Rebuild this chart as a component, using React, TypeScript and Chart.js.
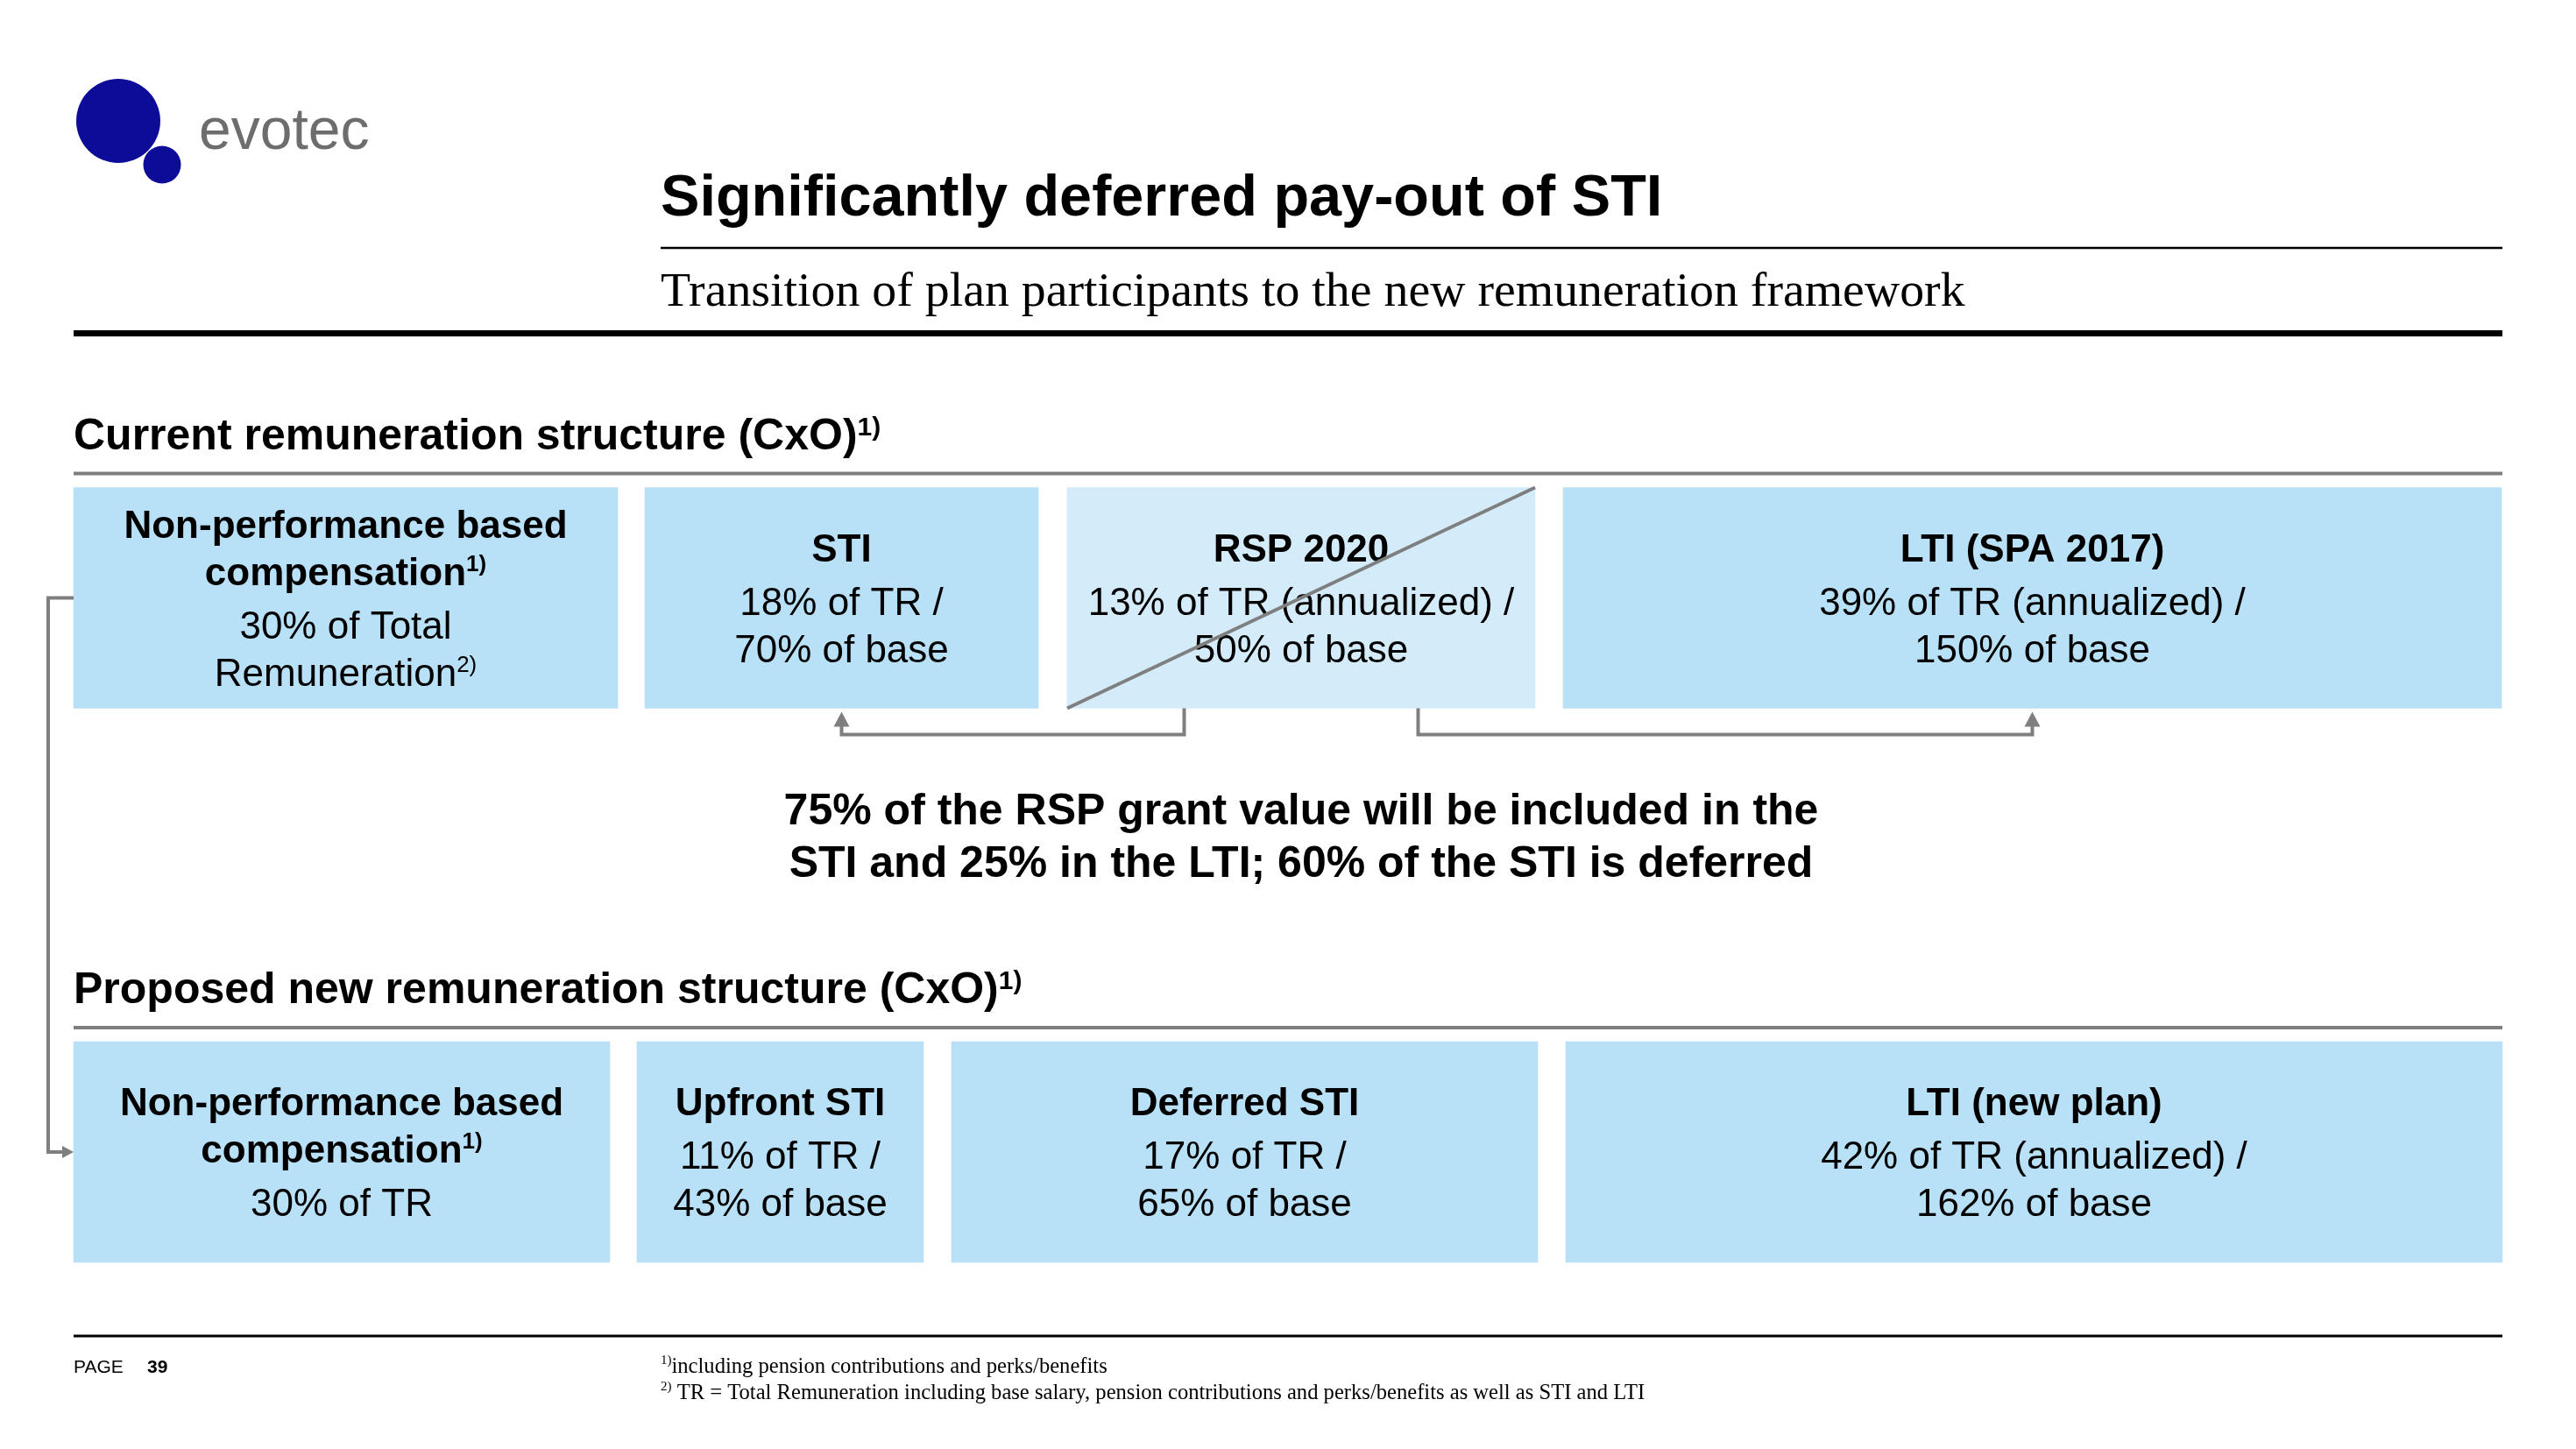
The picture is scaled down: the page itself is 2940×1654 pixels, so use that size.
import React, { useEffect, useRef } from 'react';
import { Chart, registerables } from 'chart.js';

Chart.register(...registerables);

// ---------------- data ----------------
const rowLabels = ['Current remuneration structure (CxO)^1)', 'Proposed new remuneration structure (CxO)^1)'];

const currentHeads = [['Non-performance based', 'compensation^1)'], ['STI'], ['RSP 2020'], ['LTI (SPA 2017)']];
const currentShareTR = [30, 18, 13, 39];
const currentShareBase = [null, 70, 50, 150];
const currentAnnualized = [false, false, true, true];

const proposedHeads = [['Non-performance based', 'compensation^1)'], ['Upfront STI'], ['Deferred STI'], ['LTI (new plan)']];
const proposedShareTR = [30, 11, 17, 42];
const proposedShareBase = [null, 43, 65, 162];
const proposedAnnualized = [false, false, false, true];

const titleText = 'Significantly deferred pay-out of STI';
const subtitleText = 'Transition of plan participants to the new remuneration framework';
const noteLines = ['75% of the RSP grant value will be included in the', 'STI and 25% in the LTI; 60% of the STI is deferred'];
const footnotes = [
  '^1)including pension contributions and perks/benefits',
  '^2) TR = Total Remuneration including base salary, pension contributions and perks/benefits as well as STI and LTI',
];
const pageNumber = '39';

// ---------------- layout (slide pixel units) ----------------
const W = 2940;
const H = 1654;
const currentSpans = [[84, 705], [736, 1185], [1218, 1752], [1784, 2855]];
const proposedSpans = [[84, 696], [727, 1054], [1086, 1755], [1787, 2856]];

const SANS = '"Liberation Sans", Arial, Helvetica, sans-serif';
const SERIF = '"Liberation Serif", "Times New Roman", serif';
const BOX = '#b8e0f6';
const BOX_LIGHT = '#d4ecf9';
const GREY = '#7f7f7f';

type Part = { t: string; sup: boolean };
function parse(str: string): Part[] {
  const out: Part[] = [];
  const re = /\^(\d\))/g;
  let last = 0;
  let m: RegExpExecArray | null;
  while ((m = re.exec(str))) {
    if (m.index > last) out.push({ t: str.slice(last, m.index), sup: false });
    out.push({ t: m[1], sup: true });
    last = m.index + m[0].length;
  }
  if (last < str.length) out.push({ t: str.slice(last), sup: false });
  return out;
}

function rich(
  ctx: CanvasRenderingContext2D,
  str: string,
  x: number,
  y: number,
  size: number,
  weight: string,
  family: string,
  color: string,
  align: 'left' | 'center' = 'left',
  supScale = 0.6,
  supRise = 0.32,
) {
  const parts = parse(str);
  const fonts = parts.map((p) => `${weight} ${p.sup ? Math.round(size * supScale) : size}px ${family}`);
  let total = 0;
  const widths = parts.map((p, i) => {
    ctx.font = fonts[i];
    const w = ctx.measureText(p.t).width;
    total += w;
    return w;
  });
  let cx = align === 'center' ? x - total / 2 : x;
  ctx.fillStyle = color;
  ctx.textAlign = 'left';
  ctx.textBaseline = 'alphabetic';
  parts.forEach((p, i) => {
    ctx.font = fonts[i];
    ctx.fillText(p.t, cx, p.sup ? y - size * supRise : y);
    cx += widths[i];
  });
}

function hline(ctx: CanvasRenderingContext2D, x1: number, x2: number, y: number, w: number, color: string) {
  ctx.fillStyle = color;
  ctx.fillRect(x1, y - w / 2, x2 - x1, w);
}

function boxLines(row: number, i: number) {
  const heads = row === 0 ? currentHeads : proposedHeads;
  const tr = row === 0 ? currentShareTR : proposedShareTR;
  const base = row === 0 ? currentShareBase : proposedShareBase;
  const ann = row === 0 ? currentAnnualized : proposedAnnualized;
  const lines: { t: string; bold: boolean }[] = heads[i].map((t) => ({ t, bold: true }));
  if (base[i] === null) {
    if (row === 0) {
      lines.push({ t: `${tr[i]}% of Total`, bold: false });
      lines.push({ t: 'Remuneration^2)', bold: false });
    } else {
      lines.push({ t: `${tr[i]}% of TR`, bold: false });
    }
  } else {
    lines.push({ t: `${tr[i]}% of TR${ann[i] ? ' (annualized)' : ''} /`, bold: false });
    lines.push({ t: `${base[i]}% of base`, bold: false });
  }
  return lines;
}

function arrowUp(ctx: CanvasRenderingContext2D, x: number, tipY: number, len = 17, half = 9) {
  ctx.beginPath();
  ctx.moveTo(x, tipY);
  ctx.lineTo(x - half, tipY + len);
  ctx.lineTo(x + half, tipY + len);
  ctx.closePath();
  ctx.fill();
}

const slidePlugin = {
  id: 'slide',
  afterDatasetsDraw(chart: any) {
    const ctx: CanvasRenderingContext2D = chart.ctx;
    ctx.save();

    // logo
    ctx.fillStyle = '#0c0c98';
    ctx.beginPath();
    ctx.arc(135, 138, 48, 0, Math.PI * 2);
    ctx.fill();
    ctx.beginPath();
    ctx.arc(185, 188, 21.5, 0, Math.PI * 2);
    ctx.fill();
    rich(ctx, 'evotec', 227, 170, 66, 'normal', SANS, '#6d6d6d');

    // title block
    rich(ctx, titleText, 754, 246, 66.6, 'bold', SANS, '#000');
    hline(ctx, 754, 2856, 283, 2.5, '#000');
    rich(ctx, subtitleText, 754, 349, 55.8, 'normal', SERIF, '#000');
    hline(ctx, 84, 2856, 380.5, 7, '#000');

    // bars -> geometry
    const rects: { l: number; r: number; t: number; b: number; cx: number; cy: number }[][] = [[], []];
    for (let d = 0; d < chart.data.datasets.length; d++) {
      const meta = chart.getDatasetMeta(d);
      meta.data.forEach((el: any, row: number) => {
        const p = el.getProps(['x', 'y', 'base', 'height'], true);
        const l = Math.min(p.x, p.base);
        const r = Math.max(p.x, p.base);
        const t = p.y - p.height / 2;
        const b = p.y + p.height / 2;
        rects[row][d] = { l, r, t, b, cx: (l + r) / 2, cy: p.y };
      });
    }

    // section headings + grey rules
    rects.forEach((row, ri) => {
      const top = row[0].t;
      rich(ctx, rowLabels[ri], 84, top - 44, 50, 'bold', SANS, '#000');
      hline(ctx, 84, 2856, top - 16, 4, GREY);
    });

    // box texts
    const capH = 44 * 0.716;
    rects.forEach((row, ri) => {
      row.forEach((bx, i) => {
        const lines = boxLines(ri, i);
        const gaps: number[] = [];
        for (let k = 1; k < lines.length; k++) {
          gaps.push(lines[k - 1].bold && !lines[k].bold ? 61 : 54);
        }
        const total = capH + gaps.reduce((a, b) => a + b, 0);
        let y = bx.cy - total / 2 + capH;
        lines.forEach((ln, k) => {
          if (k > 0) y += gaps[k - 1];
          rich(ctx, ln.t, bx.cx, y, 44, ln.bold ? 'bold' : 'normal', SANS, '#000', 'center', 0.6, 0.36);
        });
      });
    });

    // strike-through of RSP 2020
    const rsp = rects[0][2];
    ctx.strokeStyle = GREY;
    ctx.lineWidth = 4;
    ctx.beginPath();
    ctx.moveTo(rsp.l, rsp.b);
    ctx.lineTo(rsp.r, rsp.t);
    ctx.stroke();

    // RSP split arrows (75% -> STI, 25% -> LTI)
    const sti = rects[0][1];
    const lti = rects[0][3];
    const yH = rsp.b + 30;
    const xA = rsp.l + (rsp.r - rsp.l) * 0.25;
    const xB = rsp.l + (rsp.r - rsp.l) * 0.75;
    ctx.lineJoin = 'miter';
    ctx.beginPath();
    ctx.moveTo(xA, rsp.b);
    ctx.lineTo(xA, yH);
    ctx.lineTo(sti.cx, yH);
    ctx.lineTo(sti.cx, sti.b + 18);
    ctx.stroke();
    ctx.beginPath();
    ctx.moveTo(xB, rsp.b);
    ctx.lineTo(xB, yH);
    ctx.lineTo(lti.cx, yH);
    ctx.lineTo(lti.cx, lti.b + 18);
    ctx.stroke();
    ctx.fillStyle = GREY;
    arrowUp(ctx, sti.cx, sti.b + 4);
    arrowUp(ctx, lti.cx, lti.b + 4);

    // left connector: non-performance pay carries over
    const a = rects[0][0];
    const b2 = rects[1][0];
    ctx.beginPath();
    ctx.moveTo(a.l, a.cy);
    ctx.lineTo(55, a.cy);
    ctx.lineTo(55, b2.cy);
    ctx.lineTo(b2.l - 10, b2.cy);
    ctx.stroke();
    ctx.beginPath();
    ctx.moveTo(b2.l, b2.cy);
    ctx.lineTo(b2.l - 13, b2.cy - 7);
    ctx.lineTo(b2.l - 13, b2.cy + 7);
    ctx.closePath();
    ctx.fill();

    // middle statement
    rich(ctx, noteLines[0], 1485, 941, 50, 'bold', SANS, '#000', 'center');
    rich(ctx, noteLines[1], 1485, 1001, 50, 'bold', SANS, '#000', 'center');

    // footer
    hline(ctx, 84, 2856, 1525, 3, '#000');
    rich(ctx, 'PAGE', 84, 1567, 21, 'normal', SANS, '#000');
    rich(ctx, pageNumber, 168, 1567, 21, 'bold', SANS, '#000');
    rich(ctx, footnotes[0], 754, 1567, 24.6, 'normal', SERIF, '#000', 'left', 0.6, 0.4);
    rich(ctx, footnotes[1], 754, 1597, 24.6, 'normal', SERIF, '#000', 'left', 0.6, 0.4);

    ctx.restore();
  },
};

export default function App() {
  const ref = useRef<HTMLCanvasElement | null>(null);

  useEffect(() => {
    document.body.style.margin = '0';
    if (!ref.current) return;
    const spans = [0, 1, 2, 3].map((i) => [currentSpans[i], proposedSpans[i]]);
    const chart = new Chart(ref.current, {
      type: 'bar',
      data: {
        labels: ['Current', 'Proposed'],
        datasets: spans.map((d, i) => ({
          label: `box ${i + 1}`,
          data: d as any,
          backgroundColor: i === 2 ? [BOX_LIGHT, BOX] : [BOX, BOX],
          borderWidth: 0,
          barThickness: 252,
        })),
      },
      options: {
        indexAxis: 'y',
        responsive: false,
        animation: false,
        devicePixelRatio: 1,
        events: [],
        layout: { padding: { left: 0, right: 0, top: 366.25, bottom: 22.75 } },
        scales: {
          x: { type: 'linear', min: 0, max: W, display: false, stacked: false },
          y: { type: 'category', display: false, stacked: true, offset: true },
        },
        plugins: {
          legend: { display: false },
          tooltip: { enabled: false },
        },
      },
      plugins: [slidePlugin],
    });
    return () => chart.destroy();
  }, []);

  return (
    <div style={{ position: 'absolute', left: 0, top: 0, width: W, height: H, background: '#fff' }}>
      <canvas ref={ref} width={W} height={H} style={{ width: W, height: H, display: 'block' }} />
    </div>
  );
}
